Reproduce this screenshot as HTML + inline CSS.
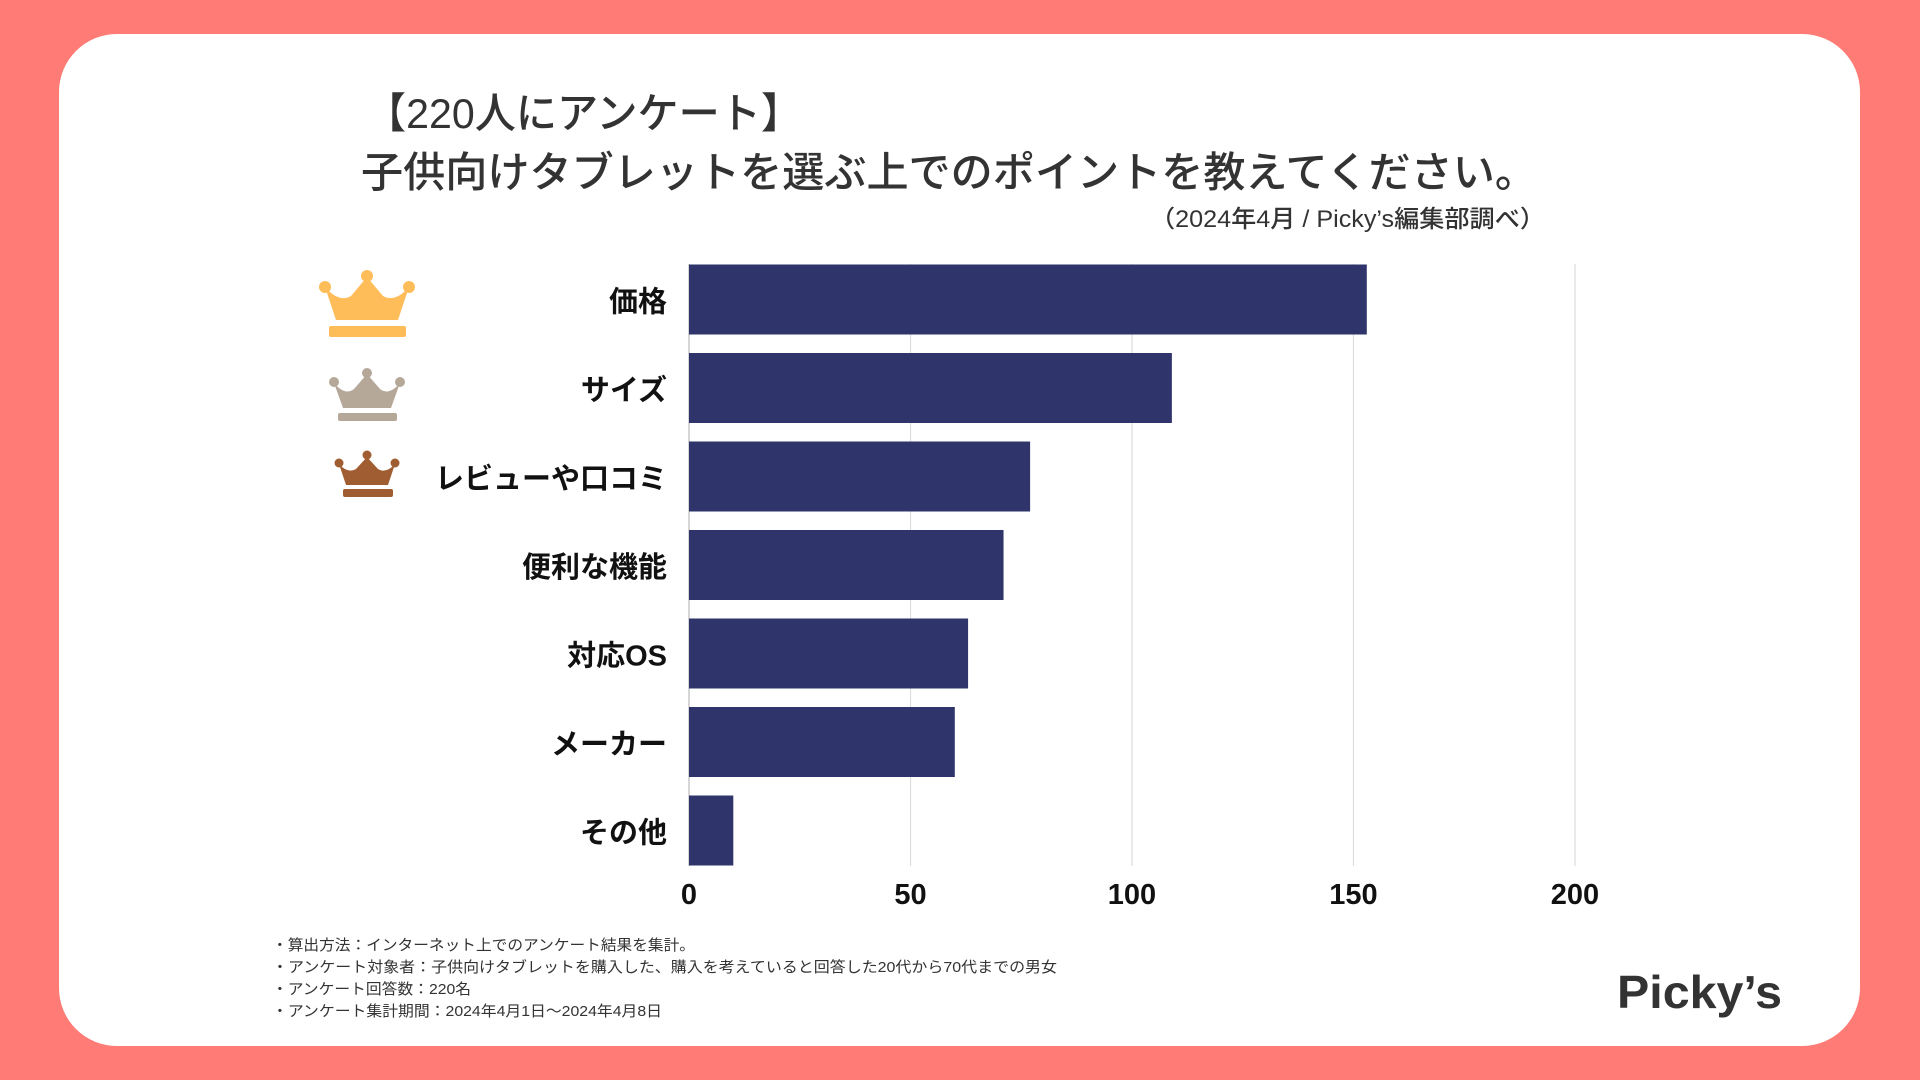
<!DOCTYPE html>
<html><head><meta charset="utf-8"><style>
html,body{margin:0;padding:0;width:1920px;height:1080px;overflow:hidden;background:#ff7b75}
svg{display:block}
text{font-family:"Liberation Sans","Noto Sans CJK JP",sans-serif}
</style></head><body>
<svg id="chart" width="1920" height="1080" viewBox="0 0 1920 1080">
<rect x="0" y="0" width="1920" height="1080" fill="#ff7b75"/>
<rect x="59" y="34" width="1801" height="1012" rx="58" fill="#fff"/>
<text x="365" y="128" font-size="42" font-weight="500" fill="#333" textLength="437" lengthAdjust="spacingAndGlyphs">【220人にアンケート】</text>
<text x="361" y="187" font-size="42" font-weight="500" fill="#333" textLength="1176" lengthAdjust="spacingAndGlyphs">子供向けタブレットを選ぶ上でのポイントを教えてください。</text>
<text x="1545" y="227" font-size="24" font-weight="500" fill="#333" text-anchor="end" textLength="395" lengthAdjust="spacingAndGlyphs">（2024年4月 / Picky’s編集部調べ）</text>
<g id="grid"></g>
<g id="bars"></g>
<g id="cats"></g>
<g id="ticks"></g>
<g fill="#ffbd59">
<path d="M325 287 L336 320 L398 320 L409 287 Q395 303 383 296 L367 277 L351 296 Q339 303 325 287Z"/>
<circle cx="325" cy="287" r="6"/><circle cx="367" cy="276" r="6"/><circle cx="409" cy="287" r="6"/>
<rect x="329" y="326" width="77" height="11" rx="2"/>
</g>
<g fill="#b5a899">
<path d="M334 383 L343 408 L391 408 L400 383 Q389 396 380 389 L367 374 L354 389 Q345 396 334 383Z"/>
<circle cx="334" cy="382" r="5"/><circle cx="367" cy="373" r="5"/><circle cx="400" cy="382" r="5"/>
<rect x="338" y="413" width="59" height="8" rx="2"/>
</g>
<g fill="#a15d32">
<path d="M339 464 L346 485 L388 485 L395 464 Q386 474 378 469 L367 457 L356 469 Q348 474 339 464Z"/>
<circle cx="339" cy="463" r="4.5"/><circle cx="367" cy="455" r="4.5"/><circle cx="395" cy="463" r="4.5"/>
<rect x="343" y="489" width="50" height="8" rx="2"/>
</g>
<g font-size="15" fill="#333">
<text x="272" y="950" textLength="423" lengthAdjust="spacingAndGlyphs">・算出方法：インターネット上でのアンケート結果を集計。</text>
<text x="272" y="972" textLength="785" lengthAdjust="spacingAndGlyphs">・アンケート対象者：子供向けタブレットを購入した、購入を考えていると回答した20代から70代までの男女</text>
<text x="272" y="994" textLength="199" lengthAdjust="spacingAndGlyphs">・アンケート回答数：220名</text>
<text x="272" y="1016" textLength="390" lengthAdjust="spacingAndGlyphs">・アンケート集計期間：2024年4月1日〜2024年4月8日</text>
</g>
<text x="1617" y="1008" font-size="46" font-weight="bold" fill="#333" textLength="165" lengthAdjust="spacingAndGlyphs">Picky’s</text>
</svg>
<script>
const categories = ["価格","サイズ","レビューや口コミ","便利な機能","対応OS","メーカー","その他"];
const values = [153,109,77,71,63,60,10];
const tickValues = [0,50,100,150,200];
const tickLabels = ["0","50","100","150","200"];
const NS = "http://www.w3.org/2000/svg";
const x0 = 689, x1 = 1575, vmax = 200;
const xScale = v => x0 + (v / vmax) * (x1 - x0);
const top0 = 264.5, pitch = 88.5, barH = 70;
const yScale = i => top0 + i * pitch;
const grid = document.getElementById('grid');
const ticks = document.getElementById('ticks');
tickValues.forEach((v, i) => {
  const l = document.createElementNS(NS, 'line');
  l.setAttribute('x1', xScale(v)); l.setAttribute('x2', xScale(v));
  l.setAttribute('y1', 264); l.setAttribute('y2', 866);
  l.setAttribute('stroke', v === 0 ? '#bbb' : '#ddd'); l.setAttribute('stroke-width', '1.2');
  
  
  grid.appendChild(l);
  const t = document.createElementNS(NS, 'text');
  t.setAttribute('x', xScale(v)); t.setAttribute('y', 904);
  t.setAttribute('text-anchor', 'middle'); t.setAttribute('font-size', '29');
  t.setAttribute('font-weight', 'bold'); t.setAttribute('fill', '#111');
  t.textContent = tickLabels[i];
  
  
  ticks.appendChild(t);
});
const bars = document.getElementById('bars');
const cats = document.getElementById('cats');
categories.forEach((c, i) => {
  const r = document.createElementNS(NS, 'rect');
  r.setAttribute('x', xScale(0)); r.setAttribute('y', yScale(i));
  r.setAttribute('width', xScale(values[i]) - xScale(0)); r.setAttribute('height', barH);
  r.setAttribute('fill', '#2f346b');
  
  
  bars.appendChild(r);
  const t = document.createElementNS(NS, 'text');
  t.setAttribute('x', 667); t.setAttribute('y', yScale(i) + barH / 2 + 12);
  t.setAttribute('text-anchor', 'end'); t.setAttribute('font-size', '29');
  t.setAttribute('font-weight', 'bold'); t.setAttribute('fill', '#111');
  t.textContent = c;
  
  
  cats.appendChild(t);
});
</script>
</body></html>
